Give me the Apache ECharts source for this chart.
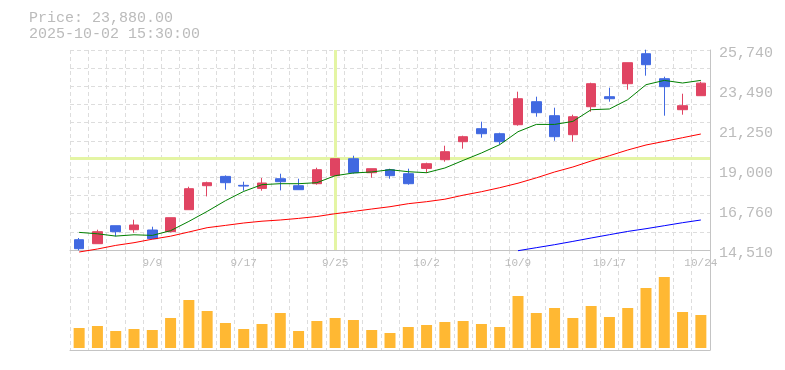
<!DOCTYPE html>
<html><head><meta charset="utf-8">
<script src="https://cdn.jsdelivr.net/npm/echarts@6/dist/echarts.min.js"></script>
<style>html,body{margin:0;padding:0;background:#fff}#c{width:785px;height:370px}</style>
</head><body><div id="c"></div>
<script>
const dates = ['9/3','9/4','9/5','9/8','9/9','9/10','9/11','9/12','9/16','9/17','9/18','9/19','9/22','9/24','9/25','9/26','9/29','9/30','10/1','10/2','10/3','10/6','10/7','10/8','10/9','10/10','10/14','10/15','10/16','10/17','10/20','10/21','10/22','10/23','10/24'];
const opens  = [15088,14864,15874,15650,15633,15538,16773,18120,18643,18140,17969,18513,18120,18233,18682,19636,18850,19019,18794,19092,19580,20591,21321,21040,21545,22837,22051,20984,22556,23118,23848,25532,24129,22388,23174];
const closes = [14583,15538,15538,15914,15144,16324,17952,18289,18289,18100,18272,18345,17896,19019,19636,18850,19075,18682,18233,19356,20030,20872,21040,20591,23005,22219,20872,21994,23848,23005,25027,24915,23680,22612,23880];
const lows   = [14490,14864,15274,15481,15144,15498,16773,17520,17896,17840,17840,17857,17896,18177,18682,18794,18570,18513,18177,18834,19468,20198,20815,20422,21489,21994,20647,20591,22275,22837,23511,24298,22051,22107,23174];
const highs  = [15184,15650,15874,16211,15818,16324,18064,18345,18699,18345,18553,18794,18513,19131,19636,19805,19075,19075,19075,19412,20366,20928,21714,21096,23399,23118,22500,22107,23904,23623,25027,25756,24241,23286,23960];
const ma5  = [15499,15420,15291,15364,15330,15594,16116,16677,17278,17800,18180,18233,18233,18289,18682,18834,18890,19019,18906,18850,19114,19541,19957,20423,21152,21562,21562,21731,22388,22427,22949,23791,24033,23887,24033];
const ma25 = [14398,14566,14768,14920,15116,15285,15521,15762,15891,16026,16127,16195,16284,16391,16548,16677,16812,16941,17110,17222,17362,17587,17783,18008,18260,18560,18890,19170,19507,19805,20125,20406,20608,20816,21023];
const ma75 = [null,null,null,null,null,null,null,null,null,null,null,null,null,null,null,null,null,null,null,null,null,null,null,null,14471,14639,14808,14993,15184,15369,15554,15706,15874,16043,16195];
const volumes = [20,22,17,19,18,30,48,37,25,19,24,35,17,27,30,28,18,15,21,23,26,27,24,21,52,35,40,30,42,31,40,60,71,36,33];
const priceTicks = [14510,16760,19000,21250,23490,25740];
const crossIndex = 14;
const crossPrice = 19636;
const headerLines = ['Price: 23,880.00', '2025-10-02 15:30:00'];

const FONT = '"Liberation Mono", "DejaVu Sans Mono", monospace';
const GRAY = '#bbbbbb';
const AXIS = '#c4c4c4';
const GRIDC = '#dddddd';
const UP = '#e04462', DOWN = '#4169e1';

const kdata = dates.map((d, i) => [opens[i], closes[i], lows[i], highs[i]]);

const chart = echarts.init(document.getElementById('c'), null, {renderer: 'canvas'});
chart.setOption({
  animation: false,
  backgroundColor: '#fff',
  graphic: headerLines.map((t, i) => ({
    type: 'text', left: 29, top: 11 + i * 16,
    style: {text: t, fill: GRAY, font: '15px ' + FONT}
  })),
  grid: [
    {left: 70, top: 50, width: 640, height: 200},
    {left: 70, top: 250, width: 640, height: 100}
  ],
  xAxis: [
    {type: 'category', gridIndex: 0, data: dates, boundaryGap: true,
     axisLine: {show: true, onZero: false, lineStyle: {color: AXIS, width: 1}},
     axisTick: {show: false},
     axisLabel: {interval: (idx) => idx % 5 === 4, color: GRAY, fontFamily: FONT, fontSize: 11, margin: 8},
     splitLine: {show: true, interval: 0, lineStyle: {color: GRIDC, type: [4, 3], width: 1}}},
    {type: 'category', gridIndex: 1, data: dates, boundaryGap: true,
     axisLine: {show: true, onZero: false, lineStyle: {color: AXIS, width: 1}},
     axisTick: {show: false}, axisLabel: {show: false},
     splitLine: {show: true, interval: 0, lineStyle: {color: GRIDC, type: [4, 3], width: 1}}}
  ],
  yAxis: [
    {type: 'value', gridIndex: 0, min: priceTicks[0], max: priceTicks[priceTicks.length - 1], position: 'right',
     axisLine: {show: false}, axisTick: {show: false}, axisLabel: {show: false}, splitLine: {show: false}},
    {type: 'value', gridIndex: 0, min: 0, max: priceTicks.length - 1, interval: 1, position: 'right',
     axisLine: {show: true, onZero: false, lineStyle: {color: AXIS}}, axisTick: {show: false},
     axisLabel: {color: GRAY, fontFamily: FONT, fontSize: 15, margin: 9, verticalAlign: 'top', lineHeight: 7,
       formatter: (v) => priceTicks[v].toLocaleString('en-US')},
     splitLine: {show: false}},
    {type: 'value', gridIndex: 0, min: 0, max: 11, interval: 1, position: 'left',
     axisLine: {show: false}, axisTick: {show: false}, axisLabel: {show: false},
     splitLine: {show: true, lineStyle: {color: GRIDC, type: [4, 3], width: 1}}},
    {type: 'value', gridIndex: 1, min: -2, max: 98, position: 'right',
     axisLine: {show: true, onZero: false, lineStyle: {color: AXIS}}, axisTick: {show: false},
     axisLabel: {show: false}, splitLine: {show: false}}
  ],
  series: [
    {type: 'line', xAxisIndex: 0, yAxisIndex: 0, data: dates.map(() => null), z: 1, silent: true,
     markLine: {symbol: 'none', silent: true, animation: false, label: {show: false},
       lineStyle: {color: '#e4f5a4', width: 3, type: 'solid'},
       data: [{xAxis: dates[crossIndex]}, {yAxis: crossPrice}]}},
    {type: 'candlestick', xAxisIndex: 0, yAxisIndex: 0, data: kdata, barWidth: 10, z: 10,
     itemStyle: {color: UP, color0: DOWN, borderColor: UP, borderColor0: DOWN, borderWidth: 1}},
    {type: 'line', xAxisIndex: 0, yAxisIndex: 0, data: ma5, symbol: 'none', clip: false, z: 11,
     lineStyle: {color: '#008000', width: 1}},
    {type: 'line', xAxisIndex: 0, yAxisIndex: 0, data: ma25, symbol: 'none', clip: false, z: 11,
     lineStyle: {color: '#ff0000', width: 1}},
    {type: 'line', xAxisIndex: 0, yAxisIndex: 0, data: ma75, symbol: 'none', clip: false, z: 11,
     lineStyle: {color: '#0000ff', width: 1}},
    {type: 'bar', xAxisIndex: 1, yAxisIndex: 3, data: volumes, barWidth: 11,
     itemStyle: {color: '#ffb833'}}
  ]
});
</script></body></html>
